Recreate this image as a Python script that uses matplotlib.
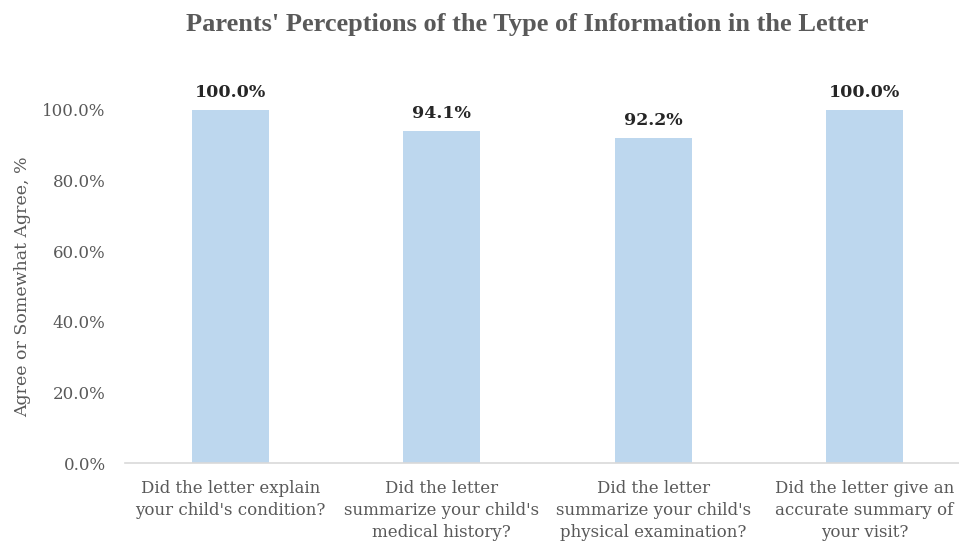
import matplotlib.pyplot as plt

questions = [
    "Did the letter explain\nyour child's condition?",
    "Did the letter\nsummarize your child's\nmedical history?",
    "Did the letter\nsummarize your child's\nphysical examination?",
    "Did the letter give an\naccurate summary of\nyour visit?",
]
agree = [1.000, 0.941, 0.922, 1.000]
yticks = [0.0, 0.2, 0.4, 0.6, 0.8, 1.0]

plt.rcParams['font.family'] = ['DejaVu Serif']
grey = '#595959'

fig = plt.figure(figsize=(9.59, 5.46), dpi=100)
ax = fig.add_axes([125 / 959, 1 - 463 / 546, 845 / 959, 353 / 546])

x = range(len(questions))
ax.bar(x, agree, width=0.365, color='#bdd7ee')
ax.set_xlim(-0.5, len(questions) - 0.5)
ax.set_ylim(0, 1.0)

for xi, v in zip(x, agree):
    ax.text(xi, v + 0.025, f"{v * 100:.1f}%", ha='center', va='bottom',
            fontsize=12.5, fontweight='bold', color='#262626', clip_on=False)

ax.set_yticks(yticks)
ax.set_yticklabels([f"{t * 100:.1f}%" for t in yticks], fontsize=12, color=grey)
ax.set_xticks(list(x))
ax.set_xticklabels(questions, fontsize=12, color=grey, linespacing=1.4)
ax.tick_params(axis='y', length=0, pad=14)
ax.tick_params(axis='x', length=0, pad=12)
ax.set_ylabel('Agree or Somewhat Agree, %', fontsize=12.5, color=grey, labelpad=8)

for s in ['top', 'right', 'left']:
    ax.spines[s].set_visible(False)
ax.spines['bottom'].set_color('#d9d9d9')
ax.spines['bottom'].set_linewidth(1.2)

fig.text(527 / 959, 1 - 24 / 546, "Parents' Perceptions of the Type of Information in the Letter",
         ha='center', va='center', fontsize=19, fontweight='bold', color=grey,
         family='Liberation Serif')

fig.savefig('out.png', dpi=100)
